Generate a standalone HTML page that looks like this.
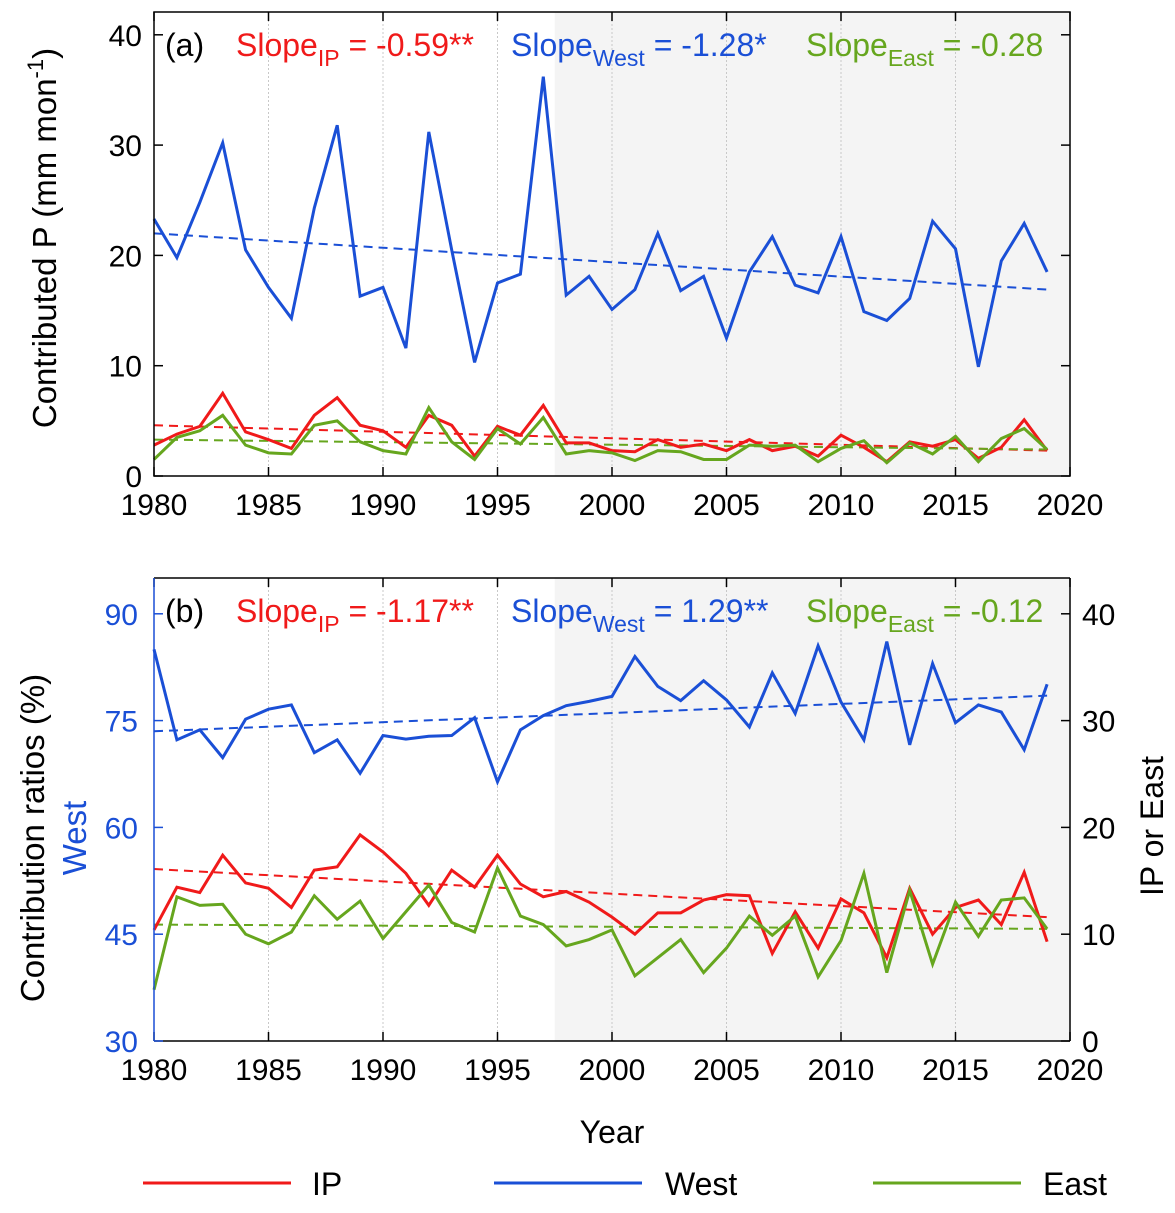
<!DOCTYPE html>
<html><head><meta charset="utf-8"><style>
body{margin:0;background:#fff}
svg{font-family:"Liberation Sans",Arial,sans-serif}
</style></head><body>
<svg id="c" width="1175" height="1208" viewBox="0 0 1175 1208" xmlns="http://www.w3.org/2000/svg"></svg>
<script>
const years=[];for(let y=1980;y<=2019;y++)years.push(y);
const aWest=[23.3,19.8,24.8,30.2,20.5,17.1,14.3,24.3,31.8,16.3,17.1,11.6,31.2,20.5,10.3,17.5,18.3,36.2,16.4,18.1,15.1,16.9,22.0,16.8,18.1,12.5,18.5,21.7,17.3,16.6,21.7,14.9,14.1,16.1,23.1,20.6,9.9,19.5,22.9,18.5];
const aIP=[2.8,3.8,4.5,7.5,4.0,3.3,2.5,5.5,7.1,4.6,4.1,2.6,5.5,4.6,1.8,4.5,3.7,6.4,3.0,3.0,2.3,2.2,3.3,2.6,2.9,2.3,3.3,2.3,2.7,1.8,3.7,2.6,1.3,3.1,2.7,3.3,1.6,2.6,5.1,2.3];
const aEast=[1.5,3.5,4.1,5.5,2.8,2.1,2.0,4.6,5.0,3.1,2.3,2.0,6.2,3.1,1.5,4.3,2.9,5.3,2.0,2.3,2.1,1.4,2.3,2.2,1.5,1.5,2.8,2.7,2.8,1.3,2.5,3.2,1.2,3.0,2.0,3.6,1.3,3.4,4.3,2.4];
const aTrend={West:[22.0,16.9],IP:[4.6,2.3],East:[3.3,2.4]};
const bWest=[85,72.3,73.7,69.8,75.2,76.6,77.2,70.5,72.3,67.6,72.9,72.4,72.8,72.9,75.4,66.4,73.7,75.7,77.1,77.7,78.4,84.0,79.8,77.8,80.6,77.9,74.1,81.7,76.0,85.5,77.6,72.3,86.1,71.6,83.0,74.7,77.2,76.2,70.9,80.1];
const bIP=[10.4,14.4,13.9,17.4,14.8,14.3,12.5,16.0,16.3,19.3,17.7,15.7,12.7,16.0,14.4,17.4,14.7,13.5,14.0,13.0,11.6,10.0,12.0,12.0,13.2,13.7,13.6,8.2,12.1,8.7,13.3,12.0,7.8,14.3,10.0,12.5,13.2,10.9,15.8,9.3];
const bEast=[4.8,13.5,12.7,12.8,10.0,9.1,10.2,13.6,11.4,13.1,9.6,12.1,14.6,11.1,10.2,16.2,11.7,10.9,8.9,9.5,10.4,6.1,7.8,9.5,6.4,8.7,11.7,9.9,11.7,6.0,9.4,15.7,6.4,14.1,7.2,13.0,9.8,13.2,13.4,10.5];
const bTrend={West:[73.5,78.5],IP:[16.1,11.6],East:[10.9,10.5]};
const xTicks=[1980,1985,1990,1995,2000,2005,2010,2015,2020];
const aTicks=[0,10,20,30,40];
const bLeftTicks=[30,45,60,75,90];
const bRightTicks=[0,10,20,30,40];
const C={IP:'#f01a1a',West:'#1a4fd6',East:'#66a61e'};
const NS='http://www.w3.org/2000/svg';
const svg=document.getElementById('c');
const FS=30;
function el(t,a,p){const e=document.createElementNS(NS,t);for(const k in a)e.setAttribute(k,a[k]);(p||svg).appendChild(e);return e;}
const X0=154,X1=1070;
const xs=y=>X0+(y-1980)/40*(X1-X0);
function panel(top,bot,name){
  const g=el('g',{});
  
  
  el('rect',{x:X0,y:top,width:X1-X0,height:bot-top,fill:'#fff'},g);
  const s=el('rect',{x:xs(1997.5),y:top,width:X1-xs(1997.5),height:bot-top,fill:'#f4f4f4'},g);
  
  
  xTicks.slice(1,-1).forEach(t=>{el('line',{x1:xs(t),x2:xs(t),y1:top,y2:bot,stroke:'#c8c8c8','stroke-dasharray':'2,2','stroke-width':1},g);});
  xTicks.forEach(t=>{el('line',{x1:xs(t),x2:xs(t),y1:bot,y2:bot-9,stroke:'#000','stroke-width':1.5},g);el('line',{x1:xs(t),x2:xs(t),y1:top,y2:top+9,stroke:'#000','stroke-width':1.5},g);
    const tx=el('text',{x:xs(t),y:bot+39,'font-size':FS,'text-anchor':'middle'},g);tx.textContent=t;
    
    });
  return g;
}
function line(g,vals,ys,col,name){
  const p=el('polyline',{points:vals.map((v,i)=>xs(years[i])+','+ys(v)).join(' '),fill:'none',stroke:col,'stroke-width':3,'stroke-linejoin':'miter'},g);
  
  
}
function trend(g,tr,ys,col,name){
  const p=el('line',{x1:xs(1980),x2:xs(2019),y1:ys(tr[0]),y2:ys(tr[1]),stroke:col,'stroke-width':2,'stroke-dasharray':'9,6'},g);
  
  
}
function slopeText(g,y,label,items){
  const t=el('text',{x:165,y:y,'font-size':32},g);
  
  
  t.innerHTML=`<tspan>${label}</tspan><tspan x="236" fill="${C.IP}">Slope</tspan><tspan dy="10" font-size="23" fill="${C.IP}">IP</tspan><tspan dy="-10" fill="${C.IP}"> = ${items[0]}</tspan><tspan x="511" fill="${C.West}">Slope</tspan><tspan dy="10" font-size="23" fill="${C.West}">West</tspan><tspan dy="-10" fill="${C.West}"> = ${items[1]}</tspan><tspan x="806" fill="${C.East}">Slope</tspan><tspan dy="10" font-size="23" fill="${C.East}">East</tspan><tspan dy="-10" fill="${C.East}"> = ${items[2]}</tspan>`;
}
// Panel a
const aT=12,aB=476;
const ga=panel(aT,aB,'panel-a');
const yA=v=>476-v*11.03;
aTicks.forEach(t=>{el('line',{x1:X0,x2:X0+9,y1:yA(t),y2:yA(t),stroke:'#000','stroke-width':1.5},ga);el('line',{x1:X1,x2:X1-9,y1:yA(t),y2:yA(t),stroke:'#000','stroke-width':1.5},ga);
  const tx=el('text',{x:X0-12,y:yA(t)+11,'font-size':FS,'text-anchor':'end'},ga);tx.textContent=t;
  
  });
trend(ga,aTrend.West,yA,C.West,'trend-west-a');trend(ga,aTrend.IP,yA,C.IP,'trend-ip-a');trend(ga,aTrend.East,yA,C.East,'trend-east-a');
line(ga,aWest,yA,C.West,'line-west-a');line(ga,aIP,yA,C.IP,'line-ip-a');line(ga,aEast,yA,C.East,'line-east-a');
el('rect',{x:X0,y:aT,width:X1-X0,height:aB-aT,fill:'none',stroke:'#000','stroke-width':1.5},ga);
slopeText(ga,56,'(a)',['-0.59**','-1.28*','-0.28']);
const yl=el('text',{transform:'translate(56,238) rotate(-90)','font-size':33,'text-anchor':'middle'});


yl.innerHTML='Contributed P (mm mon<tspan dy="-13" font-size="22">-1</tspan><tspan dy="13">)</tspan>';
// Panel b
const bT=578,bB=1041;
const gb=panel(bT,bB,'panel-b');
const yL=v=>1041-(v-30)*7.12, yR=v=>1041-v*10.68;
trend(gb,bTrend.West,yL,C.West,'trend-west-b');trend(gb,bTrend.IP,yR,C.IP,'trend-ip-b');trend(gb,bTrend.East,yR,C.East,'trend-east-b');
line(gb,bWest,yL,C.West,'line-west-b');line(gb,bIP,yR,C.IP,'line-ip-b');line(gb,bEast,yR,C.East,'line-east-b');
el('line',{x1:X0,x2:X1,y1:bT,y2:bT,stroke:'#000','stroke-width':1.5},gb);
el('line',{x1:X0,x2:X1,y1:bB,y2:bB,stroke:'#000','stroke-width':1.5},gb);
el('line',{x1:X1,x2:X1,y1:bT,y2:bB,stroke:'#000','stroke-width':1.5},gb);
el('line',{x1:X0,x2:X0,y1:bT,y2:bB,stroke:C.West,'stroke-width':1.5},gb);
bLeftTicks.forEach(t=>{el('line',{x1:X0,x2:X0+9,y1:yL(t),y2:yL(t),stroke:C.West,'stroke-width':1.5},gb);
  const tx=el('text',{x:X0-16,y:yL(t)+11,'font-size':FS,'text-anchor':'end',fill:C.West},gb);tx.textContent=t;
  
  });
bRightTicks.forEach(t=>{el('line',{x1:X1,x2:X1-9,y1:yR(t),y2:yR(t),stroke:'#000','stroke-width':1.5},gb);
  const tx=el('text',{x:X1+12,y:yR(t)+11,'font-size':FS},gb);tx.textContent=t;
  
  });
slopeText(gb,622,'(b)',['-1.17**','1.29**','-0.12']);
const yl2=el('text',{transform:'translate(44,838) rotate(-90)','font-size':33,'text-anchor':'middle'});


yl2.textContent='Contribution ratios (%)';
const yl3=el('text',{transform:'translate(86,838) rotate(-90)','font-size':33,'text-anchor':'middle',fill:C.West});


yl3.textContent='West';
const yl4=el('text',{transform:'translate(1163,826) rotate(-90)','font-size':32,'text-anchor':'middle'});


yl4.textContent='IP or East';
const xl=el('text',{x:612,y:1143,'font-size':32,'text-anchor':'middle'});


xl.textContent='Year';
// legend
[['IP',143,312],['West',494,665],['East',873,1043]].forEach(([n,x,tx])=>{
  const g=el('g',{});
  
  
  el('line',{x1:x,x2:x+148,y1:1183,y2:1183,stroke:C[n],'stroke-width':3},g);
  const t=el('text',{x:tx,y:1195,'font-size':32},g);t.textContent=n;
});
</script>
</body></html>
